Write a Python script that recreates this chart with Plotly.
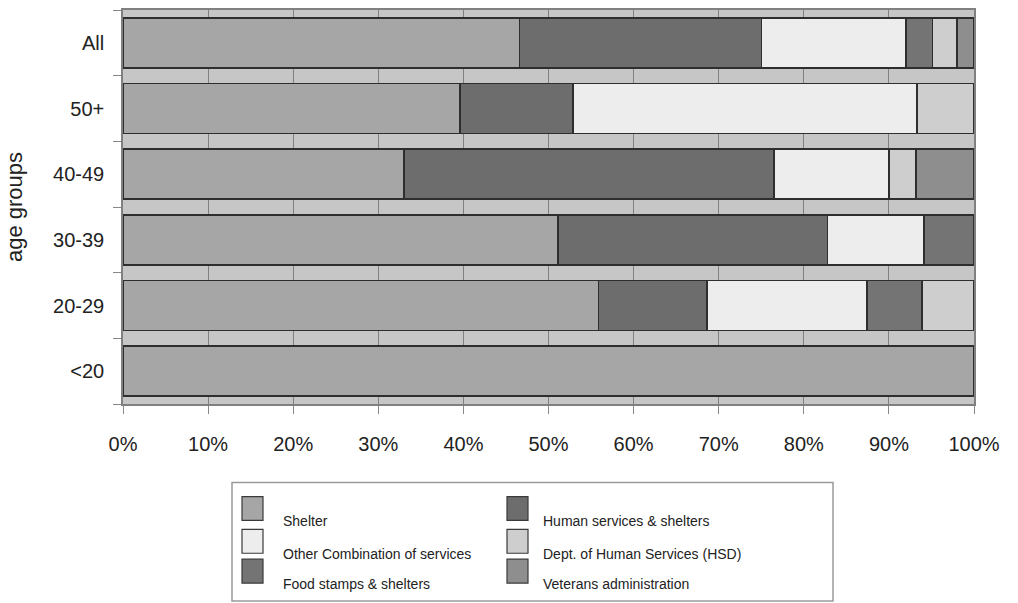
import plotly.graph_objects as go

# Age groups, listed bottom to top
age_groups = ["<20", "20-29", "30-39", "40-49", "50+", "All"]

# Share of respondents (%) by service used, per age group (same order as age_groups)
shelter        = [100.0, 55.9, 51.1, 33.0, 39.6, 46.6]
human_services = [0.0, 12.7, 31.7, 43.5, 13.3, 28.4]
other_combo    = [0.0, 18.8, 11.3, 13.5, 40.4, 17.0]
food_stamps    = [0.0, 6.5, 5.9, 0.0, 0.0, 3.1]
dept_hsd       = [0.0, 6.1, 0.0, 3.2, 6.7, 2.9]
veterans       = [0.0, 0.0, 0.0, 6.8, 0.0, 2.0]

series_names = [
    "Shelter",
    "Human services & shelters",
    "Other Combination of services",
    "Food stamps & shelters",
    "Dept. of Human Services (HSD)",
    "Veterans administration",
]
series_values = [shelter, human_services, other_combo, food_stamps, dept_hsd, veterans]
series_colors = ["#a6a6a6", "#6d6d6d", "#ededed", "#747474", "#cecece", "#8e8e8e"]

x_ticks = list(range(0, 101, 10))

FONT = "Liberation Sans, Arial, sans-serif"
W, H = 1018, 603
ML, MR, MT, MB = 123, 44, 8, 199

fig = go.Figure()
for name, vals, col in zip(series_names, series_values, series_colors):
    fig.add_trace(go.Bar(
        y=age_groups, x=vals, name=name, orientation="h",
        marker=dict(color=col, line=dict(color="#2e2e2e", width=1.5)),
        showlegend=False,
    ))

# pixel -> paper helpers for the legend block below the plot
pw, ph = W - ML - MR, H - MT - MB
def px_x(v):
    return (v - ML) / pw
def px_y(v):
    return (H - MB - v) / ph

shapes = [dict(type="rect", xref="paper", yref="paper",
               x0=px_x(232), x1=px_x(833), y0=px_y(602), y1=px_y(483),
               line=dict(color="#9a9a9a", width=1.5), fillcolor="white", layer="above")]
annotations = []
# column-major order: first three entries left column, rest right column
legend_order = [0, 2, 3, 1, 4, 5]
col_sw_x = [242, 507]
col_tx_x = [281, 541]
row_txt_y = [522, 555, 585]
for slot, idx in enumerate(legend_order):
    c, r = divmod(slot, 3)
    ty = row_txt_y[r]
    shapes.append(dict(type="rect", xref="paper", yref="paper",
                       x0=px_x(col_sw_x[c]), x1=px_x(col_sw_x[c] + 21),
                       y0=px_y(ty - 1), y1=px_y(ty - 25),
                       line=dict(color="#3a3a3a", width=1.2),
                       fillcolor=series_colors[idx], layer="above"))
    annotations.append(dict(xref="paper", yref="paper", x=px_x(col_tx_x[c]), y=px_y(ty),
                            text=series_names[idx], showarrow=False,
                            xanchor="left", yanchor="middle",
                            font=dict(family=FONT, size=14, color="#222")))

fig.update_layout(
    width=W, height=H,
    margin=dict(l=ML, r=MR, t=MT, b=MB),
    barmode="stack", bargap=0.24,
    paper_bgcolor="white", plot_bgcolor="#c6c6c6",
    font=dict(family=FONT, size=20, color="#222"),
    shapes=shapes, annotations=annotations,
    xaxis=dict(
        range=[0, 100], tickvals=x_ticks, ticktext=[f"{v}%" for v in x_ticks],
        showgrid=True, gridcolor="#808080", gridwidth=1,
        ticks="outside", ticklen=8, tickcolor="#888",
        ticklabelstandoff=13,
        showline=True, linecolor="#808080", linewidth=1.5, mirror=True,
        zeroline=False, tickfont=dict(size=20),
    ),
    yaxis=dict(
        categoryorder="array", categoryarray=age_groups,
        ticks="outside", ticklen=8, tickcolor="#888", tickson="boundaries",
        ticklabelstandoff=13,
        showline=True, linecolor="#808080", linewidth=1.5, mirror=True,
        title=dict(text="age groups", font=dict(size=22), standoff=24),
        tickfont=dict(size=20),
    ),
)

fig.write_html("out.html")
